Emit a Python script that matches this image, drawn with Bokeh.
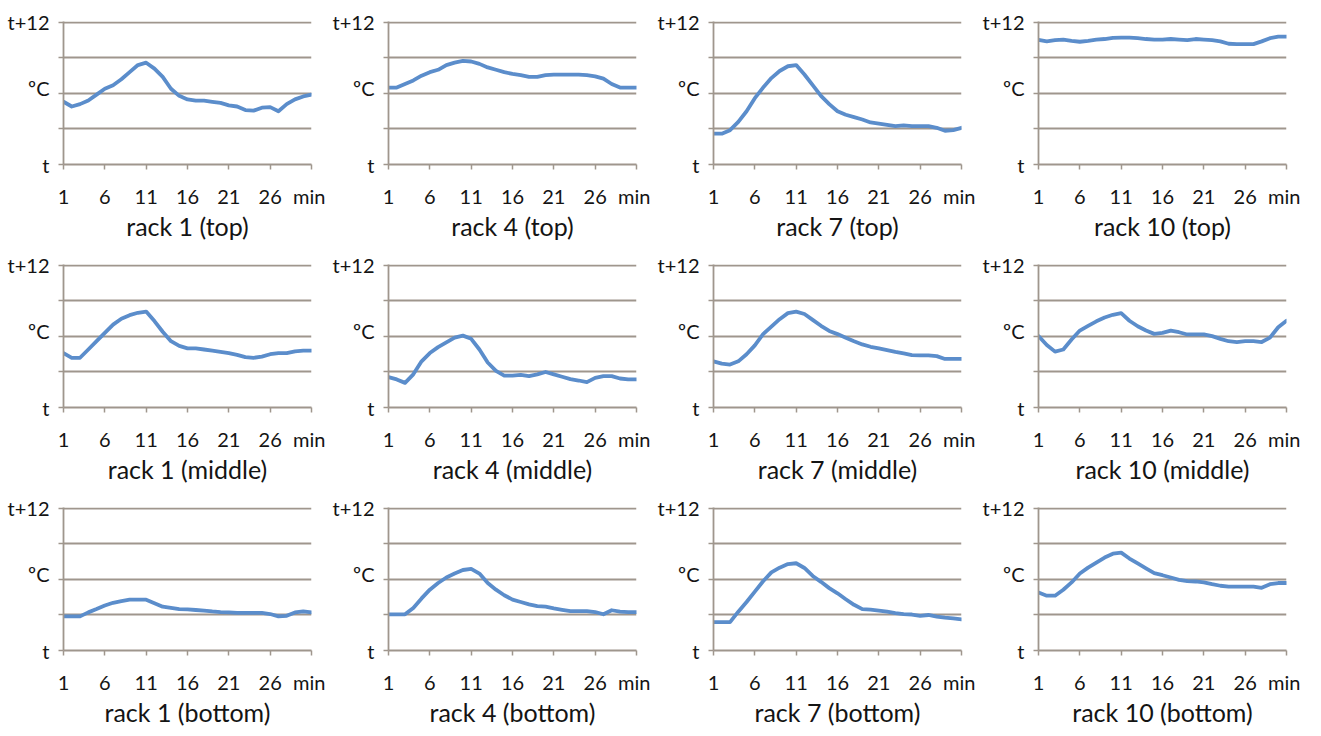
from bokeh.plotting import figure
from bokeh.models import Range1d, FixedTicker
from bokeh.layouts import column, row
from bokeh.embed import file_html
from bokeh.resources import INLINE

# ---------------- data ----------------
minutes = list(range(1, 32))
x_ticks = [1, 6, 11, 16, 21, 26, 31]
x_tick_labels = ["1", "6", "11", "16", "21", "26", "min"]
y_gridlines = [0, 3, 6, 9, 12]
y_label_ticks = [0, 6.5, 12]
y_tick_labels = ["t", "ºC", "t+12"]

rack1_top = [5.3, 4.9, 5.1, 5.4, 5.9, 6.4, 6.7, 7.2, 7.8, 8.4, 8.6, 8.1, 7.4, 6.4, 5.8,
             5.5, 5.4, 5.4, 5.3, 5.2, 5.0, 4.9, 4.6, 4.55, 4.8, 4.85, 4.5, 5.1, 5.5, 5.75, 5.9]
rack4_top = [6.5, 6.5, 6.8, 7.1, 7.5, 7.8, 8.0, 8.4, 8.6, 8.75, 8.7, 8.5, 8.2, 8.0, 7.8,
             7.65, 7.55, 7.4, 7.4, 7.55, 7.6, 7.6, 7.6, 7.6, 7.55, 7.45, 7.25, 6.8, 6.5, 6.5, 6.5]
rack7_top = [2.6, 2.6, 2.9, 3.6, 4.5, 5.6, 6.5, 7.3, 7.9, 8.3, 8.4, 7.6, 6.7, 5.8, 5.1,
             4.5, 4.2, 4.0, 3.8, 3.55, 3.45, 3.35, 3.25, 3.3, 3.25, 3.25, 3.25, 3.1, 2.85, 2.9, 3.1]
rack10_top = [10.53, 10.4, 10.5, 10.55, 10.45, 10.37, 10.45, 10.55, 10.6, 10.7, 10.72, 10.72,
              10.67, 10.6, 10.55, 10.55, 10.6, 10.55, 10.5, 10.6, 10.55, 10.5, 10.4, 10.2,
              10.17, 10.17, 10.17, 10.4, 10.67, 10.8, 10.8]

rack1_middle = [4.6, 4.2, 4.2, 4.9, 5.6, 6.3, 7.0, 7.5, 7.8, 8.0, 8.1, 7.3, 6.4, 5.6, 5.2,
                5.0, 5.0, 4.9, 4.8, 4.7, 4.6, 4.45, 4.25, 4.2, 4.3, 4.5, 4.6, 4.6, 4.75, 4.8, 4.8]
rack4_middle = [2.57, 2.37, 2.08, 2.8, 3.9, 4.6, 5.1, 5.5, 5.9, 6.07, 5.8, 4.9, 3.8, 3.1, 2.7,
                2.7, 2.76, 2.65, 2.8, 3.0, 2.8, 2.6, 2.4, 2.28, 2.14, 2.5, 2.65, 2.65, 2.45, 2.37, 2.37]
rack7_middle = [3.9, 3.7, 3.63, 3.9, 4.5, 5.25, 6.2, 6.84, 7.46, 7.97, 8.1, 7.9, 7.4, 6.9, 6.47,
                6.2, 5.9, 5.6, 5.33, 5.13, 5.0, 4.85, 4.7, 4.57, 4.43, 4.4, 4.4, 4.34, 4.1, 4.1, 4.1]
rack10_middle = [6.03, 5.28, 4.72, 4.9, 5.75, 6.5, 6.9, 7.28, 7.6, 7.83, 7.97, 7.33, 6.86, 6.5,
                 6.22, 6.3, 6.5, 6.36, 6.17, 6.17, 6.17, 6.03, 5.8, 5.6, 5.53, 5.6, 5.6, 5.53,
                 5.9, 6.78, 7.33]

rack1_bottom = [2.88, 2.88, 2.88, 3.22, 3.5, 3.8, 4.03, 4.17, 4.29, 4.29, 4.29, 4.0, 3.7, 3.6,
                3.5, 3.48, 3.42, 3.37, 3.3, 3.25, 3.22, 3.17, 3.17, 3.17, 3.17, 3.08, 2.88, 2.93,
                3.22, 3.3, 3.22]
rack4_bottom = [3.06, 3.06, 3.06, 3.6, 4.4, 5.14, 5.7, 6.17, 6.5, 6.8, 6.9, 6.5, 5.7, 5.14, 4.67,
                4.3, 4.1, 3.9, 3.75, 3.7, 3.56, 3.44, 3.33, 3.33, 3.33, 3.25, 3.06, 3.4, 3.28,
                3.25, 3.25]
rack7_bottom = [2.4, 2.4, 2.4, 3.28, 4.1, 4.97, 5.85, 6.6, 7.0, 7.3, 7.37, 6.97, 6.3, 5.8, 5.27,
                4.83, 4.33, 3.86, 3.5, 3.45, 3.37, 3.28, 3.16, 3.07, 3.04, 2.93, 3.0, 2.87, 2.78,
                2.72, 2.63]
rack10_bottom = [4.9, 4.63, 4.63, 5.13, 5.75, 6.5, 7.0, 7.43, 7.85, 8.18, 8.27, 7.77, 7.35, 6.93,
                 6.53, 6.36, 6.17, 5.97, 5.86, 5.83, 5.75, 5.6, 5.47, 5.4, 5.4, 5.4, 5.4, 5.3,
                 5.6, 5.7, 5.7]

grid_series = [
    [rack1_top, rack4_top, rack7_top, rack10_top],
    [rack1_middle, rack4_middle, rack7_middle, rack10_middle],
    [rack1_bottom, rack4_bottom, rack7_bottom, rack10_bottom],
]
rack_names = ["rack 1", "rack 4", "rack 7", "rack 10"]
positions = ["top", "middle", "bottom"]

# ---------------- style ----------------
BLUE = "#5b8dcb"
GRID = "#9f968d"
TEXT = "#141414"
FONT = "Lato"


def make_panel(values, title):
    p = figure(frame_width=248, frame_height=143,
               min_border_left=63, min_border_right=14,
               min_border_top=21, min_border_bottom=76,
               x_range=Range1d(1, 31), y_range=Range1d(0, 12.08),
               output_backend="svg", toolbar_location=None, tools="")
    p.outline_line_color = None
    p.background_fill_color = "white"
    p.border_fill_color = "white"

    p.xgrid.visible = False
    p.ygrid.ticker = FixedTicker(ticks=y_gridlines)
    p.ygrid.grid_line_color = GRID
    p.ygrid.grid_line_width = 1.8

    p.line(minutes, values, line_color=BLUE, line_width=3.8,
           line_join="round", line_cap="round")

    xa = p.xaxis[0]
    xa.ticker = FixedTicker(ticks=x_ticks)
    xa.major_label_overrides = {t: l for t, l in zip(x_ticks, x_tick_labels)}
    xa.axis_line_color = GRID
    xa.axis_line_width = 1.8
    xa.major_tick_line_color = GRID
    xa.major_tick_line_width = 1.5
    xa.major_tick_out = 5
    xa.major_tick_in = 0
    xa.minor_tick_line_color = None
    xa.major_label_standoff = 14
    xa.major_label_text_font = FONT
    xa.major_label_text_font_size = "20px"
    xa.major_label_text_color = TEXT
    xa.axis_label = title
    xa.axis_label_standoff = 0
    xa.axis_label_text_font = FONT
    xa.axis_label_text_font_size = "25px"
    xa.axis_label_text_font_style = "normal"
    xa.axis_label_text_color = TEXT

    ya = p.yaxis[0]
    ya.ticker = FixedTicker(ticks=y_label_ticks, minor_ticks=y_gridlines)
    ya.major_label_overrides = {t: l for t, l in zip(y_label_ticks, y_tick_labels)}
    ya.axis_line_color = GRID
    ya.axis_line_width = 1.8
    ya.major_tick_out = 0
    ya.major_tick_in = 0
    ya.major_tick_line_color = None
    ya.minor_tick_line_color = GRID
    ya.minor_tick_line_width = 1.5
    ya.minor_tick_out = 5
    ya.minor_tick_in = 0
    ya.major_label_standoff = 9
    ya.major_label_text_font = FONT
    ya.major_label_text_font_size = "20px"
    ya.major_label_text_color = TEXT
    return p


rows = []
for r, pos in enumerate(positions):
    figs = []
    for c, name in enumerate(rack_names):
        figs.append(make_panel(grid_series[r][c], f"{name} ({pos})"))
    rows.append(row(*figs))

layout = column(*rows)
open("out.html", "w").write(file_html(layout, INLINE))
